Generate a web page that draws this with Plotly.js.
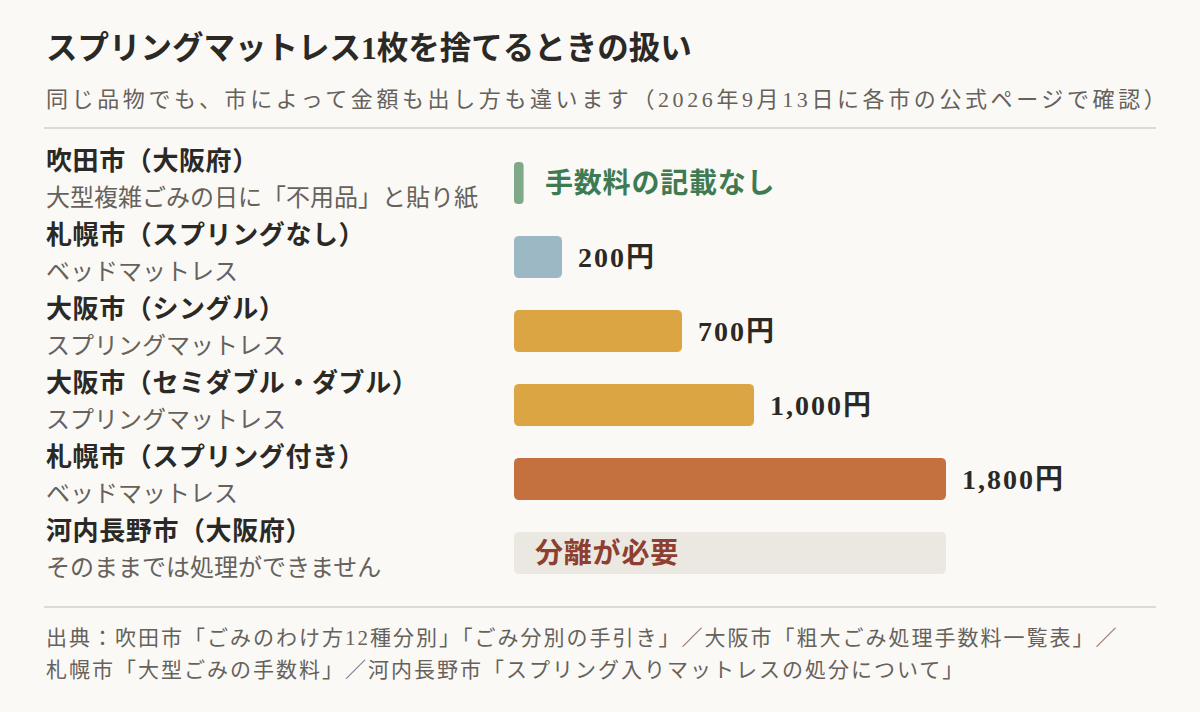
<!DOCTYPE html>
<html>
<head>
<meta charset="utf-8">
<script src="https://cdn.plot.ly/plotly-3.0.1.min.js"></script>
<style>
  html, body { margin: 0; padding: 0; background: #faf9f6; }
  #chart { width: 1200px; height: 712px; }
</style>
</head>
<body>
<div id="chart"></div>
<script>
// Data
const cities = ['吹田市（大阪府）', '札幌市（スプリングなし）', '大阪市（シングル）',
  '大阪市（セミダブル・ダブル）', '札幌市（スプリング付き）', '河内長野市（大阪府）'];
const notes = ['大型複雑ごみの日に「不用品」と貼り紙', 'ベッドマットレス', 'スプリングマットレス',
  'スプリングマットレス', 'ベッドマットレス', 'そのままでは処理ができません'];
const fees = [null, 200, 700, 1000, 1800, null];
const feeColors = [null, '#9db8c5', '#dba543', '#dba543', '#c4703f', null];
const statusText = ['手数料の記載なし', null, null, null, null, '分離が必要'];
const statusBars = [40, null, null, null, null, 1800];
const statusBarColors = ['#80a98a', null, null, null, null, '#ebe8e2'];
const statusTextColors = ['#3f7a52', null, null, null, null, '#8e3f31'];

const TITLE = 'スプリングマットレス1枚を捨てるときの扱い';
const SUBTITLE = '同じ品物でも、市によって金額も出し方も違います（2026年9月13日に各市の公式ページで確認）';
const SOURCE_1 = '出典：吹田市「ごみのわけ方12種分別」「ごみ分別の手引き」／大阪市「粗大ごみ処理手数料一覧表」／';
const SOURCE_2 = '札幌市「大型ごみの手数料」／河内長野市「スプリング入りマットレスの処分について」';

const FONT = "'Liberation Serif', 'Noto Sans CJK JP', serif";
const INK = '#2b2926', DIM = '#66615b', RULE = '#dedad4';

// plot area in px: left 514, right 1090, top 146, bottom 590
const L = 514, R = 1090, T = 146, B = 590;
const px = x => (x - L) / (R - L);
const py = y => (B - y) / (B - T);

const rows = cities.map((_, i) => i);
const spaced = (s, ls) => `<span style="letter-spacing:${ls}px">${s}</span>`;

// an explicit base makes Plotly round both ends of the bar
const barTrace = (values, colors) => ({
  type: 'bar', orientation: 'h', y: rows, x: values,
  base: values.map(() => 0), width: 0.57,
  marker: { color: colors, cornerradius: 5, line: { width: 0 } },
  hoverinfo: 'skip',
});

const traces = [barTrace(statusBars, statusBarColors), barTrace(fees, feeColors)];

const annotations = [];
const txt = (o) => annotations.push({ showarrow: false, ...o });

txt({ xref: 'paper', yref: 'paper', x: px(44), y: py(48), xanchor: 'left', yanchor: 'middle',
  text: TITLE, font: { family: FONT, size: 31.5, color: INK, weight: 700 } });
txt({ xref: 'paper', yref: 'paper', x: px(44), y: py(99), xanchor: 'left', yanchor: 'middle',
  text: spaced(SUBTITLE, 3.6), font: { family: FONT, size: 22, color: DIM } });
txt({ xref: 'paper', yref: 'paper', x: px(44), y: py(638), xanchor: 'left', yanchor: 'middle',
  text: spaced(SOURCE_1, 2), font: { family: FONT, size: 21, color: DIM } });
txt({ xref: 'paper', yref: 'paper', x: px(44), y: py(670), xanchor: 'left', yanchor: 'middle',
  text: spaced(SOURCE_2, 2), font: { family: FONT, size: 21, color: DIM } });

rows.forEach(i => {
  txt({ xref: 'paper', yref: 'y', x: px(44), y: i, yshift: 22, xanchor: 'left', yanchor: 'middle',
    text: spaced(cities[i], 0.6), font: { family: FONT, size: 26, color: INK, weight: 700 } });
  txt({ xref: 'paper', yref: 'y', x: px(44), y: i, yshift: -15, xanchor: 'left', yanchor: 'middle',
    text: notes[i], font: { family: FONT, size: 24, color: DIM } });
  if (fees[i] != null) {
    txt({ xref: 'x', yref: 'y', x: fees[i], y: i, xshift: 14, xanchor: 'left', yanchor: 'middle',
      text: spaced(fees[i].toLocaleString('en-US') + '円', 2),
      font: { family: FONT, size: 28, color: INK, weight: 700 } });
  }
  if (statusText[i]) {
    // text sits inside the grey track, or just after the thin marker
    const shift = statusBars[i] >= 1000 ? 19 : 29;
    txt({ xref: 'x', yref: 'y', x: 0, y: i, xshift: shift, xanchor: 'left', yanchor: 'middle',
      text: spaced(statusText[i], 0.8),
      font: { family: FONT, size: 28, color: statusTextColors[i], weight: 700 } });
  }
});

const rule = y => ({ type: 'line', xref: 'paper', yref: 'paper', x0: px(44), x1: px(1156),
  y0: py(y), y1: py(y), line: { color: RULE, width: 2 } });

const layout = {
  width: 1200, height: 712,
  paper_bgcolor: '#faf9f6', plot_bgcolor: 'rgba(0,0,0,0)',
  margin: { l: L, r: 1200 - R, t: T, b: 712 - B },
  barmode: 'overlay',
  showlegend: false,
  xaxis: { range: [0, 2400], visible: false, fixedrange: true },
  yaxis: { range: [5.5, -0.5], visible: false, fixedrange: true },
  annotations,
  shapes: [rule(128), rule(607)],
};

Plotly.newPlot('chart', traces, layout, { displayModeBar: false, staticPlot: true });
</script>
</body>
</html>
